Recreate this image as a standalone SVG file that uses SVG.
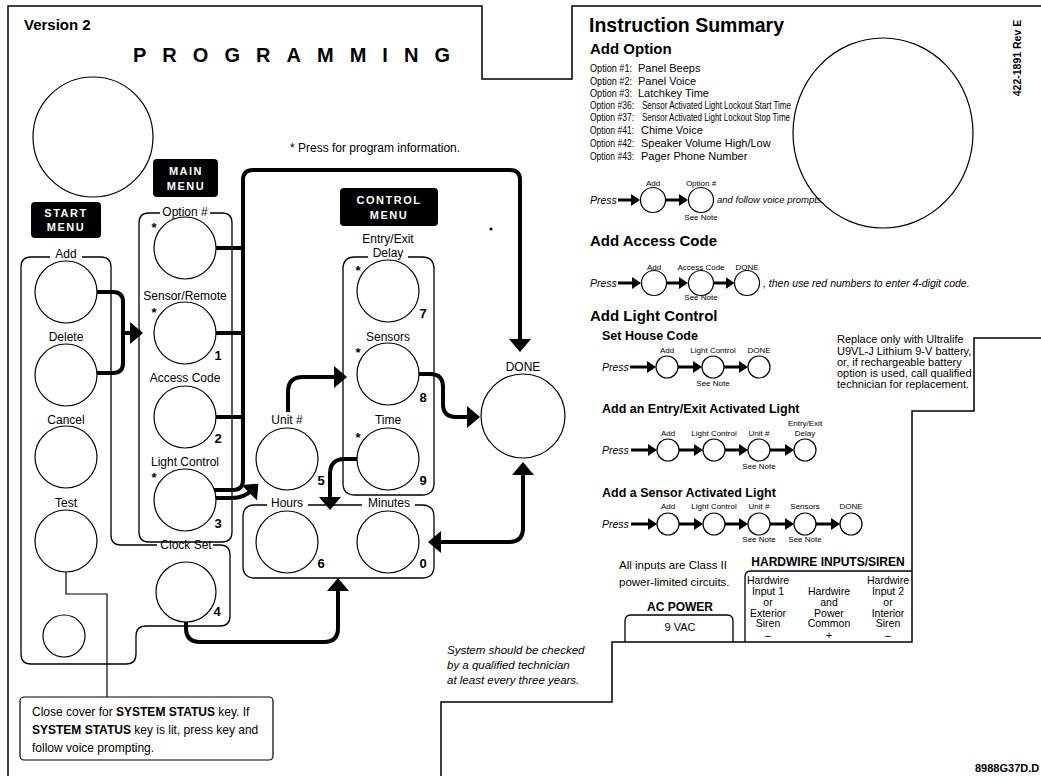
<svg xmlns="http://www.w3.org/2000/svg" width="1041" height="776" viewBox="0 0 1041 776">
<style>
text{font-family:"Liberation Sans",Arial,sans-serif;fill:#000}
.frame{fill:none;stroke:#000;stroke-width:1.5}
.box{fill:none;stroke:#000;stroke-width:1.3}
.key{fill:#fff;stroke:#000;stroke-width:1.2}
.conn{fill:none;stroke:#000;stroke-width:4;stroke-linejoin:round}
.sconn{fill:none;stroke:#000;stroke-width:3}
.lbl{font-size:12px;text-anchor:middle}
.num{font-size:13px;font-weight:bold;text-anchor:middle}
.ast{font-size:13px;font-weight:bold;text-anchor:middle}
.blk{fill:#000}
.blkt{fill:#fff;font-size:11px;font-weight:bold;text-anchor:middle;letter-spacing:1.5px}
.h1{font-size:19.5px;font-weight:bold}
.h2{font-size:15px;font-weight:bold}
.h3{font-size:12.5px;font-weight:bold}
.opt{font-size:11px}
.press{font-size:10.5px;font-style:italic}
.sm{font-size:8px;text-anchor:middle}
.note{font-size:11px}
.hw{font-size:10.5px;text-anchor:middle}
.it{font-size:11.5px;font-style:italic}
</style>
<defs>
<marker id="ah" markerUnits="userSpaceOnUse" markerWidth="14" markerHeight="22" viewBox="0 0 14 22" refX="4" refY="11" orient="auto-start-reverse"><path d="M0,0 L13,11 L0,22 z" fill="#000"/></marker>
<marker id="sh" markerUnits="userSpaceOnUse" markerWidth="9" markerHeight="12" viewBox="0 0 9 12" refX="3" refY="6" orient="auto"><path d="M0,0 L9,6 L0,12 z" fill="#000"/></marker>
</defs>
<rect width="1041" height="776" fill="#fff"/>

<!-- frame -->
<g id="frame">
<path class="frame" d="M8,776 V6 H482 V79 H572 V6 H1041"/>
<path class="frame" d="M1041,338 H974 V411 H912 V642 H612 V702 H441 V776"/>
</g>

<!-- headers -->
<g id="titles">
<text x="24" y="30" font-size="15" font-weight="bold">Version 2</text>
<text x="133" y="62" font-size="20" font-weight="bold" textLength="317" lengthAdjust="spacing">PROGRAMMING</text>
<text x="290" y="152" font-size="12">* Press for program information.</text>
<circle cx="93" cy="137" r="60" class="key"/>
<circle cx="491" cy="229" r="1.5" fill="#000"/>
</g>

<!-- group outlines -->
<g id="groups">
<path class="box" d="M82,257 H101 Q111,257 111,267 V535 Q111,545 121,545 H157 M213,545 H220 Q230,545 230,555 V616 Q230,626 220,626 H146 Q136,626 136,636 V654 Q136,664 126,664 H31 Q21,664 21,654 V267 Q21,257 31,257 H50"/>
<path class="box" d="M210,213 H222 Q232,213 232,223 V532 Q232,542 222,542 H149 Q139,542 139,532 V223 Q139,213 149,213 H160"/>
<path class="box" d="M408,257 H422 Q434,257 434,269 V483 Q434,495 422,495 H355 Q343,495 343,483 V269 Q343,257 355,257 H368"/>
<path class="box" d="M308,505 H362 M415,505 H422 Q434,505 434,517 V566 Q434,578 422,578 H255 Q243,578 243,566 V517 Q243,505 255,505 H267"/>
</g>

<!-- menu badges -->
<g id="start-menu-label">
<rect class="blk" x="31" y="202" width="70" height="36" rx="4"/>
<text class="blkt" x="66" y="217">START</text>
<text class="blkt" x="66" y="231">MENU</text>
</g>
<g id="main-menu-label">
<rect class="blk" x="153" y="159" width="65" height="38" rx="4"/>
<text class="blkt" x="186" y="175">MAIN</text>
<text class="blkt" x="186" y="190">MENU</text>
</g>
<g id="control-menu-label">
<rect class="blk" x="340" y="188" width="98" height="38" rx="4"/>
<text class="blkt" x="389" y="204">CONTROL</text>
<text class="blkt" x="389" y="219">MENU</text>
</g>

<!-- connectors -->
<g id="connectors">
<path class="conn" d="M97,292 H113 Q123,292 123,302 V363 Q123,373 113,373 H97"/>
<path class="conn" d="M123,333 H134" marker-end="url(#ah)"/>
<path class="conn" d="M216,248 H243 M216,333 H243 M216,417 H243"/>
<path class="conn" d="M214,490 H233 Q243,490 243,480 V180 Q243,170 253,170 H510 Q520,170 520,180 V343" marker-end="url(#ah)"/>
<path class="conn" d="M214,498 H232 Q244,498 252,490" marker-end="url(#ah)"/>
<path class="conn" d="M288,412 V392 Q288,377 303,377 H338" marker-end="url(#ah)"/>
<path class="conn" d="M419,374 H430 Q443,374 443,387 V404 Q443,417 456,417 H471" marker-end="url(#ah)"/>
<path class="conn" d="M357,459 H345 Q330,459 330,474 V501" marker-end="url(#ah)"/>
<path class="conn" d="M523,471 V528 Q523,542 509,542 H437" marker-start="url(#ah)" marker-end="url(#ah)"/>
<path class="conn" d="M186,622 V628 Q186,642 200,642 H324 Q338,642 338,628 V587" marker-end="url(#ah)"/>
<path fill="none" stroke="#000" stroke-width="1.2" d="M66,572 V594 H107 V697"/>
</g>

<!-- start menu -->
<g id="key-add"><text class="lbl" x="66" y="258">Add</text><circle class="key" cx="66" cy="292" r="31"/></g>
<g id="key-delete"><text class="lbl" x="66" y="341">Delete</text><circle class="key" cx="66" cy="375" r="31"/></g>
<g id="key-cancel"><text class="lbl" x="66" y="424">Cancel</text><circle class="key" cx="66" cy="457" r="31"/></g>
<g id="key-test"><text class="lbl" x="66" y="507">Test</text><circle class="key" cx="66" cy="541" r="31"/></g>
<g id="key-status"><circle class="key" cx="64" cy="636" r="21"/></g>

<!-- main menu -->
<g id="key-option"><text class="lbl" x="185" y="216">Option #</text><text class="ast" x="154" y="232">*</text><circle class="key" cx="185" cy="248" r="31"/></g>
<g id="key-sensor-remote"><text class="lbl" x="185" y="300">Sensor/Remote</text><text class="ast" x="154" y="317">*</text><circle class="key" cx="185" cy="333" r="31"/><text class="num" x="218" y="360">1</text></g>
<g id="key-access-code"><text class="lbl" x="185" y="382">Access Code</text><circle class="key" cx="185" cy="417" r="31"/><text class="num" x="218" y="443">2</text></g>
<g id="key-light-control"><text class="lbl" x="185" y="466">Light Control</text><text class="ast" x="154" y="482">*</text><circle class="key" cx="185" cy="500" r="31"/><text class="num" x="218" y="528">3</text></g>
<g id="key-clock-set"><text class="lbl" x="186" y="549">Clock Set</text><circle class="key" cx="186" cy="592" r="30"/><text class="num" x="217" y="616">4</text></g>

<!-- control menu -->
<g id="key-unit"><text class="lbl" x="287" y="424">Unit #</text><circle class="key" cx="287" cy="459" r="31"/><text class="num" x="321" y="485">5</text></g>
<g id="key-entry-exit"><text class="lbl" x="388" y="243">Entry/Exit</text><text class="lbl" x="388" y="257">Delay</text><text class="ast" x="358" y="275">*</text><circle class="key" cx="388" cy="291" r="31"/><text class="num" x="423" y="318">7</text></g>
<g id="key-sensors"><text class="lbl" x="388" y="341">Sensors</text><text class="ast" x="358" y="357">*</text><circle class="key" cx="388" cy="374" r="31"/><text class="num" x="423" y="402">8</text></g>
<g id="key-time"><text class="lbl" x="388" y="424">Time</text><text class="ast" x="358" y="442">*</text><circle class="key" cx="388" cy="459" r="31"/><text class="num" x="423" y="485">9</text></g>
<g id="key-hours"><text class="lbl" x="287" y="507">Hours</text><circle class="key" cx="287" cy="542" r="31"/><text class="num" x="321" y="568">6</text></g>
<g id="key-minutes"><text class="lbl" x="389" y="507">Minutes</text><circle class="key" cx="388" cy="542" r="31"/><text class="num" x="423" y="568">0</text></g>
<g id="key-done"><text class="lbl" x="523" y="371">DONE</text><circle class="key" cx="523" cy="416" r="42"/></g>

<!-- note box -->
<g id="status-note">
<rect x="20" y="697" width="253" height="63" rx="4" fill="#fff" stroke="#000" stroke-width="1.2"/>
<text x="32" y="716" font-size="12">Close cover for <tspan font-weight="bold">SYSTEM STATUS</tspan> key.  If</text>
<text x="32" y="734" font-size="12"><tspan font-weight="bold">SYSTEM STATUS</tspan> key is lit, press key and</text>
<text x="32" y="752" font-size="12">follow voice prompting.</text>
</g>

<!-- right panel -->
<g id="instruction-summary">
<ellipse cx="883" cy="133" rx="90" ry="95" class="key"/>
<text class="h1" x="589" y="32">Instruction Summary</text>
<text class="h2" x="590" y="54">Add Option</text>
<text class="opt" x="590" y="72" textLength="42" lengthAdjust="spacingAndGlyphs">Option #1:</text><text class="opt" x="638" y="72">Panel Beeps</text>
<text class="opt" x="590" y="84.5" textLength="42" lengthAdjust="spacingAndGlyphs">Option #2:</text><text class="opt" x="638" y="84.5">Panel Voice</text>
<text class="opt" x="590" y="97" textLength="42" lengthAdjust="spacingAndGlyphs">Option #3:</text><text class="opt" x="638" y="97">Latchkey Time</text>
<text class="opt" x="590" y="109" textLength="44" lengthAdjust="spacingAndGlyphs">Option #36:</text><text class="opt" x="642" y="109" textLength="149" lengthAdjust="spacingAndGlyphs">Sensor Activated Light Lockout Start Time</text>
<text class="opt" x="590" y="121" textLength="44" lengthAdjust="spacingAndGlyphs">Option #37:</text><text class="opt" x="642" y="121" textLength="148" lengthAdjust="spacingAndGlyphs">Sensor Activated Light Lockout Stop Time</text>
<text class="opt" x="590" y="134" textLength="44" lengthAdjust="spacingAndGlyphs">Option #41:</text><text class="opt" x="641" y="134">Chime Voice</text>
<text class="opt" x="590" y="147" textLength="44" lengthAdjust="spacingAndGlyphs">Option #42:</text><text class="opt" x="641" y="147">Speaker Volume High/Low</text>
<text class="opt" x="590" y="160" textLength="44" lengthAdjust="spacingAndGlyphs">Option #43:</text><text class="opt" x="641" y="160">Pager Phone Number</text>

<text class="sm" x="653" y="186">Add</text><text class="sm" x="701" y="186">Option #</text>
<text class="press" x="590" y="204">Press</text>
<path class="sconn" d="M618,200 H634" marker-end="url(#sh)"/>
<path class="sconn" d="M665.5,200 H682" marker-end="url(#sh)"/>
<circle class="key" cx="653" cy="200" r="12.5"/><circle class="key" cx="701" cy="200" r="12.5"/>
<text class="sm" x="701" y="220">See Note</text>
<text x="717" y="203" font-size="9.5" font-style="italic">and follow voice prompts.</text>

<text class="h2" x="590" y="246">Add Access Code</text>
<text class="sm" x="654" y="270">Add</text><text class="sm" x="701" y="270">Access Code</text><text class="sm" x="747" y="270">DONE</text>
<text class="press" x="590" y="287">Press</text>
<path class="sconn" d="M618,283 H635" marker-end="url(#sh)"/>
<path class="sconn" d="M666.5,283 H682" marker-end="url(#sh)"/>
<path class="sconn" d="M713.5,283 H728.5" marker-end="url(#sh)"/>
<circle class="key" cx="654" cy="283" r="12.5"/><circle class="key" cx="701" cy="283" r="12.5"/><circle class="key" cx="747" cy="283" r="12.5"/>
<text class="sm" x="701" y="300">See Note</text>
<text x="763" y="287" font-size="10.5" font-style="italic">, then use red numbers to enter 4-digit code.</text>

<text class="h2" x="590" y="321">Add Light Control</text>
<text class="h3" x="602" y="340">Set House Code</text>
<text class="sm" x="667" y="353">Add</text><text class="sm" x="713" y="353">Light Control</text><text class="sm" x="759" y="353">DONE</text>
<text class="press" x="602" y="371">Press</text>
<path class="sconn" d="M630,367 H650" marker-end="url(#sh)"/>
<path class="sconn" d="M678,367 H696" marker-end="url(#sh)"/>
<path class="sconn" d="M724,367 H742" marker-end="url(#sh)"/>
<circle class="key" cx="667" cy="367" r="11"/><circle class="key" cx="713" cy="367" r="11"/><circle class="key" cx="759" cy="367" r="11"/>
<text class="sm" x="713" y="386">See Note</text>

<text class="h3" x="602" y="413">Add an Entry/Exit Activated Light</text>
<text class="sm" x="805" y="426">Entry/Exit</text>
<text class="sm" x="668" y="436">Add</text><text class="sm" x="714" y="436">Light Control</text><text class="sm" x="759" y="436">Unit #</text><text class="sm" x="805" y="436">Delay</text>
<text class="press" x="602" y="454">Press</text>
<path class="sconn" d="M631,450 H651" marker-end="url(#sh)"/>
<path class="sconn" d="M679,450 H697" marker-end="url(#sh)"/>
<path class="sconn" d="M725,450 H742" marker-end="url(#sh)"/>
<path class="sconn" d="M770,450 H788" marker-end="url(#sh)"/>
<circle class="key" cx="668" cy="450" r="11"/><circle class="key" cx="714" cy="450" r="11"/><circle class="key" cx="759" cy="450" r="11"/><circle class="key" cx="805" cy="450" r="11"/>
<text class="sm" x="759" y="469">See Note</text>

<text class="h3" x="602" y="497">Add a Sensor Activated Light</text>
<text class="sm" x="668" y="509">Add</text><text class="sm" x="714" y="509">Light Control</text><text class="sm" x="759" y="509">Unit #</text><text class="sm" x="805" y="509">Sensors</text><text class="sm" x="851" y="509">DONE</text>
<text class="press" x="602" y="528">Press</text>
<path class="sconn" d="M631,524 H651" marker-end="url(#sh)"/>
<path class="sconn" d="M679,524 H697" marker-end="url(#sh)"/>
<path class="sconn" d="M725,524 H742" marker-end="url(#sh)"/>
<path class="sconn" d="M770,524 H788" marker-end="url(#sh)"/>
<path class="sconn" d="M816,524 H834" marker-end="url(#sh)"/>
<circle class="key" cx="668" cy="524" r="11"/><circle class="key" cx="714" cy="524" r="11"/><circle class="key" cx="759" cy="524" r="11"/><circle class="key" cx="805" cy="524" r="11"/><circle class="key" cx="851" cy="524" r="11"/>
<text class="sm" x="759" y="542">See Note</text><text class="sm" x="805" y="542">See Note</text>
</g>

<g id="battery-note">
<text class="note" x="837" y="343">Replace only with Ultralife</text>
<text class="note" x="837" y="355">U9VL-J Lithium 9-V battery,</text>
<text class="note" x="837" y="366">or, if rechargeable battery</text>
<text class="note" x="837" y="377">option is used, call qualified</text>
<text class="note" x="837" y="388">technician for replacement.</text>
</g>

<g id="power-inputs">
<text x="619" y="569" font-size="11.5">All inputs are Class II</text>
<text x="619" y="586" font-size="11.5">power-limited circuits.</text>
<text x="828" y="566" font-size="12" font-weight="bold" text-anchor="middle">HARDWIRE INPUTS/SIREN</text>
<path class="box" d="M745,642 V577 Q745,571 751,571 H912"/>
<text class="hw" x="768" y="584">Hardwire</text><text class="hw" x="768" y="595">Input 1</text><text class="hw" x="768" y="606">or</text><text class="hw" x="768" y="617">Exterior</text><text class="hw" x="768" y="627">Siren</text><text class="hw" x="768" y="639">–</text>
<text class="hw" x="829" y="595">Hardwire</text><text class="hw" x="829" y="606">and</text><text class="hw" x="829" y="617">Power</text><text class="hw" x="829" y="627">Common</text><text class="hw" x="829" y="639">+</text>
<text class="hw" x="888" y="584">Hardwire</text><text class="hw" x="888" y="595">Input 2</text><text class="hw" x="888" y="606">or</text><text class="hw" x="888" y="617">Interior</text><text class="hw" x="888" y="627">Siren</text><text class="hw" x="888" y="639">–</text>
<text x="680" y="611" font-size="12" font-weight="bold" text-anchor="middle">AC POWER</text>
<path class="box" d="M625,642 V621 Q625,615 631,615 H727 Q733,615 733,621 V642"/>
<text x="680" y="631" font-size="11" text-anchor="middle">9 VAC</text>
</g>

<g id="service-note">
<text class="it" x="447" y="654">System should be checked</text>
<text class="it" x="447" y="669">by a qualified technician</text>
<text class="it" x="447" y="684">at least every three years.</text>
</g>

<text x="1021" y="58" font-size="10.5" font-weight="bold" text-anchor="middle" transform="rotate(-90 1021 58)">422-1891 Rev E</text>
<text x="975" y="772" font-size="11" font-weight="bold">8988G37D.D</text>
</svg>
